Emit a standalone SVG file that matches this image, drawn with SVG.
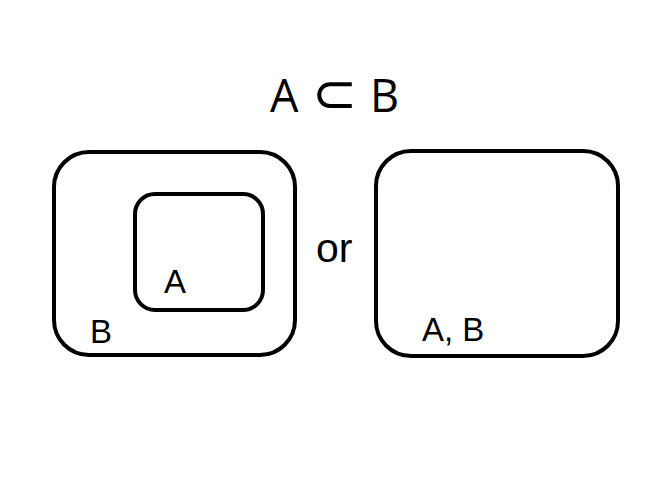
<svg xmlns="http://www.w3.org/2000/svg" width="660" height="480" viewBox="0 0 660 480">
<style>
.box{fill:none;stroke:#000;stroke-width:4}
.lbl{font-family:"Liberation Sans",Arial,sans-serif;font-size:33px;fill:#000}
.ttl{font-family:"Open Sans","Noto Sans",sans-serif;font-size:45px;fill:#000}
.sym{font-family:"DejaVu Sans",sans-serif;font-size:54px;fill:#000}
</style>
<rect width="660" height="480" fill="#fff"/>
<g id="title">
<text class="ttl" x="270" y="112">A</text>
<text class="sym" x="312" y="112">⊂</text>
<text class="ttl" x="370" y="112">B</text>
</g>
<g id="nodeB">
<rect class="box" x="54" y="152" width="241" height="203" rx="35"/>
<text class="lbl" x="90" y="343">B</text>
</g>
<g id="nodeA">
<rect class="box" x="135" y="194" width="128" height="116" rx="20"/>
<text class="lbl" x="164" y="293">A</text>
</g>
<text class="lbl" x="316" y="262" style="font-size:41px">or</text>
<g id="nodeAB">
<rect class="box" x="376" y="151" width="242" height="205" rx="35"/>
<text class="lbl" x="422" y="341">A, B</text>
</g>
<g id="connectors"/>
</svg>
